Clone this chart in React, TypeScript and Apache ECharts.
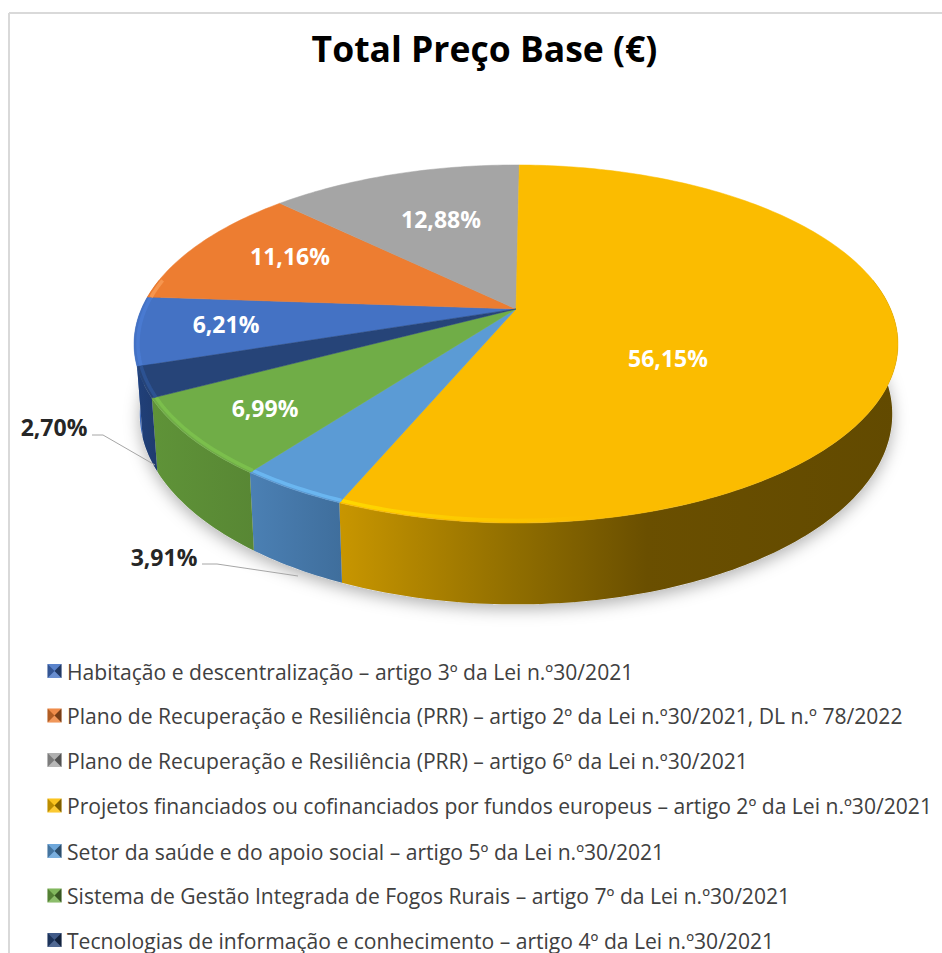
import React, { useEffect, useRef } from "react";
import * as echarts from "echarts";

const categories = [
  "Habitação e descentralização – artigo 3º da Lei n.º30/2021",
  "Plano de Recuperação e Resiliência (PRR) – artigo 2º da Lei n.º30/2021, DL n.º 78/2022",
  "Plano de Recuperação e Resiliência (PRR) – artigo 6º da Lei n.º30/2021",
  "Projetos financiados ou cofinanciados por fundos europeus – artigo 2º da Lei n.º30/2021",
  "Setor da saúde e do apoio social – artigo 5º da Lei n.º30/2021",
  "Sistema de Gestão Integrada de Fogos Rurais – artigo 7º da Lei n.º30/2021",
  "Tecnologias de informação e conhecimento – artigo 4º da Lei n.º30/2021",
];
const shares = [6.21, 11.16, 12.88, 56.15, 3.91, 6.99, 2.7];

const faceColors = ["#4472C4", "#ED7D31", "#A5A5A5", "#FBBC00", "#5B9BD5", "#70AD47", "#264478"];
const wallStops: string[][] = [
  ["#3F6CBE", "#3D68B8"],
  ["#B5602A", "#B5602A"],
  ["#808080", "#808080"],
  ["#C89600", "#8F6D00", "#6A4F00", "#624A00"],
  ["#4B80B4", "#3F6E9C"],
  ["#5F9338", "#588734"],
  ["#20407A", "#1F3B6E"],
];
const rimColors = ["#4A7BD4", "#F79A55", "#BDBDBD", "#FFDD00", "#6DBBF5", "#7CC24E", "#2E5596"];

const labelAnchors: number[][] = [
  [226, 324],
  [290, 256],
  [441, 219],
  [668, 358],
  [164, 557],
  [265, 408],
  [54, 427],
];
const outsideLabel = [false, false, false, false, true, false, true];
const leaderLines: number[][][] = [
  [[202, 564], [217, 564], [298, 576]],
  [[92, 435], [103, 435], [155, 465]],
];

const CX = 516, CY = 309, A = 374.6, B = 172.2, K = 0.1955, DEPTH = 68, SHRINK = 0.985;
const FIRST_ANGLE = -108.3;
const FONT = '"Open Sans", sans-serif';

function project(deg: number, r: number, low: boolean): number[] {
  const t = (deg * Math.PI) / 180;
  const u = r * Math.sin(t), v = -r * Math.cos(t);
  const s = 1 / (1 - K * v);
  const f = low ? SHRINK : 1;
  return [CX + f * A * u * s, CY + f * B * v * s + (low ? DEPTH * s : 0)];
}
function arc(from: number, to: number, r: number, low: boolean): number[][] {
  const n = Math.max(2, Math.ceil(Math.abs(to - from)));
  const pts: number[][] = [];
  for (let i = 0; i <= n; i++) pts.push(project(from + ((to - from) * i) / n, r, low));
  return pts;
}
function sliceAngles(i: number): number[] {
  const total = shares.reduce((a, b) => a + b, 0);
  const before = shares.slice(0, i).reduce((a, b) => a + b, 0);
  const a0 = FIRST_ANGLE + (before / total) * 360;
  return [a0, a0 + (shares[i] / total) * 360];
}
function hGrad(colors: string[]) {
  const stops = colors.length === 4
    ? [0, 0.32, 0.55, 1].map((offset, i) => ({ offset, color: colors[i] }))
    : colors.map((color, i) => ({ offset: i / (colors.length - 1), color }));
  return new echarts.graphic.LinearGradient(0, 0, 1, 0, stops);
}
function clipVisible(a0: number, a1: number): number[] | null {
  let s = a0, e = a1;
  while (s < 0) { s += 360; e += 360; }
  const lo = Math.max(s, 80), hi = Math.min(e, 280);
  return hi > lo ? [lo, hi] : null;
}

const rowY = [671, 715.5, 760, 805.5, 851, 895.5, 940];

export default function App() {
  const ref = useRef<HTMLDivElement>(null);
  useEffect(() => {
    const chart = echarts.init(ref.current!, null, { renderer: "svg" });
    const data = shares.map((v, i) => [v, i]);
    const legend: any[] = [];
    categories.forEach((name, i) => {
      const y = rowY[i], x0 = 47.5, x1 = 61.5, y0 = y - 7, y1 = y + 7, mx = (x0 + x1) / 2;
      legend.push(
        { type: "rect", shape: { x: x0, y: y0, width: 14, height: 14 }, style: { fill: faceColors[i] } },
        { type: "polygon", shape: { points: [[x0, y0], [x1, y0], [mx, y]] }, style: { fill: "rgba(255,255,255,0.12)" } },
        { type: "polygon", shape: { points: [[x0, y1], [x1, y1], [mx, y]] }, style: { fill: "rgba(255,255,255,0.2)" } },
        { type: "polygon", shape: { points: [[x0, y0], [x0, y1], [mx, y]] }, style: { fill: "rgba(0,0,0,0.25)" } },
        { type: "polygon", shape: { points: [[x1, y0], [x1, y1], [mx, y]] }, style: { fill: "rgba(0,0,0,0.5)" } },
        {
          type: "text", x: 67, y,
          style: { text: name, fill: "#404040", font: `400 21.1px ${FONT}`, textAlign: "left", textVerticalAlign: "middle" },
        }
      );
    });
    chart.setOption({
      animation: false,
      backgroundColor: "#ffffff",
      title: {
        text: "Total Preço Base (€)",
        left: 479.5, top: 25, textAlign: "center",
        textStyle: { fontFamily: FONT, fontWeight: 700, fontSize: 35.5, color: "#000000" },
      },
      graphic: [
        { type: "line", shape: { x1: 9, y1: 13, x2: 942, y2: 13 }, style: { stroke: "#d9d9d9", lineWidth: 2 } },
        { type: "line", shape: { x1: 9, y1: 13, x2: 9, y2: 953 }, style: { stroke: "#d9d9d9", lineWidth: 2 } },
        ...leaderLines.map((points) => ({
          type: "polyline", z: 5, shape: { points }, style: { stroke: "#a6a6a6", lineWidth: 1, fill: "none" },
        })),
        ...legend,
      ],
      series: [
        {
          type: "custom", coordinateSystem: "none", silent: true, z: 1, data: [[0]],
          renderItem: () => ({
            type: "polygon",
            shape: { points: arc(0, 360, 1, true) },
            style: { fill: "#dddddd", shadowBlur: 16, shadowOffsetY: 5, shadowColor: "rgba(0,0,0,0.3)" },
          }),
        },
        {
          type: "custom", coordinateSystem: "none", silent: true, z: 2, data,
          renderItem: (_p: any, api: any) => {
            const i = api.value(1);
            const [a0, a1] = sliceAngles(i);
            const vis = clipVisible(a0, a1);
            if (!vis) return { type: "group", children: [] };
            const points = [...arc(vis[0], vis[1], 1, false), ...arc(vis[1], vis[0], 1, true)];
            return { type: "polygon", shape: { points }, style: { fill: hGrad(wallStops[i]), stroke: null } };
          },
        },
        {
          type: "custom", coordinateSystem: "none", silent: true, z: 3, data,
          renderItem: (_p: any, api: any) => {
            const i = api.value(1);
            const [a0, a1] = sliceAngles(i);
            const points = [[CX, CY], ...arc(a0, a1, 1, false)];
            const children: any[] = [
              {
                type: "polygon", shape: { points },
                style: { fill: faceColors[i], stroke: faceColors[i], lineWidth: 0.5 },
              },
            ];
            const vis = clipVisible(a0, a1);
            if (vis) {
              const isMain = vis[1] - vis[0] > 100;
              const stroke = isMain
                ? new echarts.graphic.LinearGradient(0, 0, 1, 0, [
                    { offset: 0, color: rimColors[i] },
                    { offset: 0.45, color: "rgba(255,221,0,0)" },
                    { offset: 1, color: "rgba(255,221,0,0)" },
                  ])
                : rimColors[i];
              children.push({
                type: "polyline",
                shape: { points: arc(vis[0], vis[1], 0.99, false) },
                style: { stroke, lineWidth: 3.5, fill: "none", opacity: 0.85 },
              });
            }
            return { type: "group", children };
          },
        },
        {
          type: "custom", coordinateSystem: "none", silent: true, z: 4, data,
          renderItem: (_p: any, api: any) => {
            const i = api.value(1);
            return {
              type: "text",
              x: labelAnchors[i][0],
              y: labelAnchors[i][1],
              style: {
                text: api.value(0).toFixed(2).replace(".", ",") + "%",
                fill: outsideLabel[i] ? "#262626" : "#ffffff",
                font: `700 23px ${FONT}`,
                textAlign: "center",
                textVerticalAlign: "middle",
              },
            };
          },
        },
      ],
    });
    return () => chart.dispose();
  }, []);
  return <div ref={ref} style={{ position: "fixed", left: 0, top: 0, width: 942, height: 953 }} />;
}
